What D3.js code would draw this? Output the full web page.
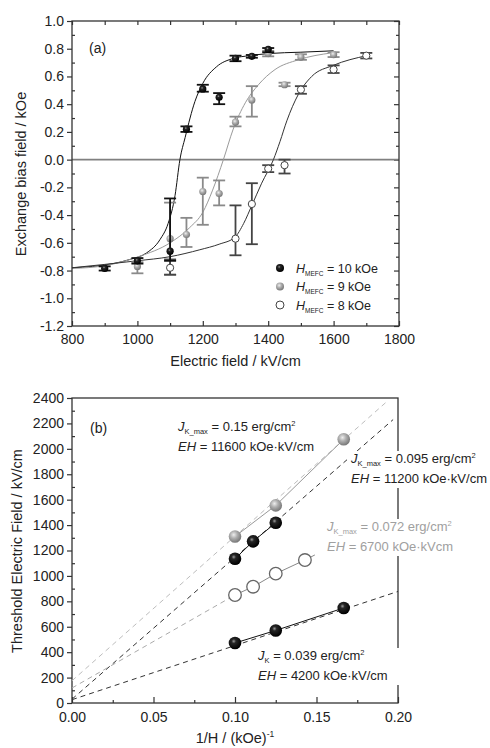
<!DOCTYPE html>
<html lang="en">
<head>
<meta charset="UTF-8">
<title>Exchange bias and threshold electric field</title>
<script src="https://d3js.org/d3.v7.min.js"></script>
<style>
  body { margin: 0; background: #fff; }
  svg { display: block; font-family: "Liberation Sans", Arial, sans-serif; }
  .tick text { font-size: 14px; fill: #222; }
  .tick line { stroke: #333; stroke-width: 1.2; }
</style>
</head>
<body>
<svg width="490" height="748"></svg>
<script>
// ---------- panel (a): exchange bias field vs electric field ----------
// H_MEFC = 10 kOe (black)
const blackE  = [900, 1000, 1100, 1150, 1200, 1250, 1300, 1350, 1400];
const blackV  = [-0.785, -0.73, -0.66, 0.22, 0.51, 0.45, 0.73, 0.745, 0.795];
const blackLo = [-0.80, -0.75, -0.73, 0.20, 0.49, 0.40, 0.71, 0.735, 0.775];
const blackHi = [-0.77, -0.71, -0.28, 0.24, 0.54, 0.48, 0.75, 0.755, 0.805];
// H_MEFC = 9 kOe (grey)
const grayE  = [1000, 1100, 1150, 1200, 1250, 1300, 1350, 1400, 1450, 1500, 1600];
const grayV  = [-0.77, -0.57, -0.54, -0.23, -0.245, 0.27, 0.43, 0.765, 0.54, 0.74, 0.757];
const grayLo = [-0.82, -0.83, -0.63, -0.47, -0.33, 0.24, 0.31, 0.745, 0.53, 0.72, 0.74];
const grayHi = [-0.74, -0.31, -0.42, -0.13, -0.15, 0.31, 0.53, 0.785, 0.555, 0.76, 0.775];
// H_MEFC = 8 kOe (open)
const whiteE  = [1100, 1300, 1350, 1400, 1450, 1500, 1600, 1700];
const whiteV  = [-0.78, -0.57, -0.32, -0.065, -0.04, 0.505, 0.65, 0.75];
const whiteLo = [-0.83, -0.69, -0.61, -0.09, -0.10, 0.475, 0.625, 0.73];
const whiteHi = [-0.72, -0.33, -0.17, -0.04, 0.00, 0.53, 0.68, 0.77];

// fitted curves
const blackFit = [[800,-0.78],[926,-0.75],[977,-0.72],[1028,-0.673],[1069,-0.577],[1094,-0.46],
  [1115,-0.26],[1130,0],[1146,0.16],[1176,0.42],[1200,0.55],[1242,0.67],[1293,0.73],
  [1344,0.75],[1400,0.765],[1500,0.775],[1600,0.785]];
const grayFit = [[800,-0.785],[900,-0.765],[1003,-0.70],[1100,-0.60],[1160,-0.49],[1200,-0.38],
  [1230,-0.22],[1263,0],[1293,0.22],[1330,0.41],[1370,0.54],[1421,0.65],[1492,0.72],[1594,0.77]];
const whiteFit = [[800,-0.78],[998,-0.73],[1100,-0.70],[1191,-0.65],[1250,-0.61],[1298,-0.56],
  [1325,-0.46],[1350,-0.33],[1380,-0.17],[1416,0],[1436,0.13],[1457,0.28],[1492,0.47],
  [1533,0.60],[1599,0.68],[1701,0.75]];

const legendA = ["10", "9", "8"];

// ---------- panel (b): threshold electric field vs 1/H ----------
const s15X = [0.1, 0.125, 0.1667],          s15Y = [1310, 1555, 2075];
const s095X = [0.1, 0.1111, 0.125],         s095Y = [1135, 1272, 1418];
const s072X = [0.1, 0.1111, 0.125, 0.1429], s072Y = [850, 915, 1018, 1125];
const s039X = [0.1, 0.125, 0.1667],         s039Y = [472, 571, 748];

// dashed extrapolations [x0, y0, x1, y1]
const dash15  = [0, 175, 0.193, 2370];
const dash095 = [0, 30, 0.197, 2230];
const dash072 = [0, 118, 0.1, 850];
const dash039 = [0, 26, 0.2, 878];
// solid segment end for the open-circle series
const solid072 = [0.1, 850, 0.149, 1165];

const svg = d3.select("svg");

// sphere gradients
const defs = svg.append("defs");
function sphere(id, stops) {
  const g = defs.append("radialGradient").attr("id", id)
    .attr("cx", "40%").attr("cy", "36%").attr("r", "62%");
  stops.forEach(s => g.append("stop").attr("offset", s[0]).attr("stop-color", s[1]));
}
sphere("sBlack", [["0%", "#9a9a9a"], ["28%", "#262626"], ["100%", "#000"]]);
sphere("sGray", [["0%", "#eeeeee"], ["45%", "#b0b0b0"], ["100%", "#7a7a7a"]]);

function frame(g, x, y) {
  g.append("rect")
    .attr("x", x.range()[0]).attr("y", y.range()[1])
    .attr("width", x.range()[1] - x.range()[0])
    .attr("height", y.range()[0] - y.range()[1])
    .attr("fill", "none").attr("stroke", "#333").attr("stroke-width", 1.3);
}

// ================= panel (a) =================
const xA = d3.scaleLinear().domain([800, 1800]).range([72, 399]);
const yA = d3.scaleLinear().domain([-1.2, 1.0]).range([326, 21]);
const gA = svg.append("g");

const yMajA = d3.range(-1.2, 1.0001, 0.2).map(d => +d.toFixed(1));
const yMinA = d3.range(-1.1, 1.0, 0.2).map(d => +d.toFixed(1));
const xMajA = d3.range(800, 1801, 200);
const xMinA = d3.range(900, 1800, 200);

gA.append("g").attr("transform", "translate(72,0)")
  .call(d3.axisLeft(yA).tickValues(yMajA).tickSize(5).tickPadding(3).tickFormat(d => d.toFixed(1)));
gA.append("g").attr("transform", "translate(72,0)")
  .call(d3.axisLeft(yA).tickValues(yMinA).tickSize(-3).tickFormat(""));
gA.append("g").attr("transform", "translate(0,326)")
  .call(d3.axisBottom(xA).tickValues(xMajA).tickSizeInner(-5).tickPadding(8).tickFormat(d3.format("d")));
gA.append("g").attr("transform", "translate(0,326)")
  .call(d3.axisBottom(xA).tickValues(xMinA).tickSize(-3).tickFormat(""));
gA.append("g").attr("transform", "translate(0,21)")
  .call(d3.axisTop(xA).tickValues(xMajA.concat(xMinA)).tickSize(-4).tickFormat(""));
gA.append("g").attr("transform", "translate(399,0)")
  .call(d3.axisRight(yA).tickValues(yMajA).tickSize(-5).tickFormat(""));
gA.append("g").attr("transform", "translate(399,0)")
  .call(d3.axisRight(yA).tickValues(yMinA).tickSize(-3).tickFormat(""));
gA.selectAll(".domain").remove();

// zero line
gA.append("line")
  .attr("x1", xA(800)).attr("x2", xA(1800)).attr("y1", yA(0)).attr("y2", yA(0))
  .attr("stroke", "#808080").attr("stroke-width", 1.6);

const lineA = d3.line().x(d => xA(d[0])).y(d => yA(d[1])).curve(d3.curveMonotoneX);
[[blackFit, "#111"], [grayFit, "#9a9a9a"], [whiteFit, "#333"]].forEach(([pts, c]) => {
  gA.append("path").attr("d", lineA(pts)).attr("fill", "none")
    .attr("stroke", c).attr("stroke-width", 1);
});

const seriesA = [
  { E: grayE, V: grayV, lo: grayLo, hi: grayHi, bar: "#8a8a8a", fill: "url(#sGray)", stroke: "none" },
  { E: whiteE, V: whiteV, lo: whiteLo, hi: whiteHi, bar: "#444", fill: "#fff", stroke: "#444" },
  { E: blackE, V: blackV, lo: blackLo, hi: blackHi, bar: "#111", fill: "url(#sBlack)", stroke: "none" }
];
seriesA.forEach(s => {
  const pts = s.E.map((e, i) => ({ e, v: s.V[i], lo: s.lo[i], hi: s.hi[i] }));
  const g = gA.append("g");
  const bars = g.selectAll("g.eb").data(pts).enter().append("g")
    .attr("stroke", s.bar).attr("stroke-width", 1.8);
  bars.append("line").attr("x1", d => xA(d.e)).attr("x2", d => xA(d.e))
    .attr("y1", d => yA(d.lo)).attr("y2", d => yA(d.hi));
  bars.append("line").attr("x1", d => xA(d.e) - 6).attr("x2", d => xA(d.e) + 6)
    .attr("y1", d => yA(d.lo)).attr("y2", d => yA(d.lo));
  bars.append("line").attr("x1", d => xA(d.e) - 6).attr("x2", d => xA(d.e) + 6)
    .attr("y1", d => yA(d.hi)).attr("y2", d => yA(d.hi));
  g.selectAll("circle").data(pts).enter().append("circle")
    .attr("cx", d => xA(d.e)).attr("cy", d => yA(d.v)).attr("r", 3.6)
    .attr("fill", s.fill).attr("stroke", s.stroke).attr("stroke-width", 1);
});

// legend
const legFill = ["url(#sBlack)", "url(#sGray)", "#fff"];
const legStroke = ["none", "none", "#444"];
legendA.forEach((h, i) => {
  const y = 268 + i * 18.5;
  gA.append("circle").attr("cx", 280).attr("cy", y).attr("r", 4)
    .attr("fill", legFill[i]).attr("stroke", legStroke[i]);
  const t = gA.append("text").attr("x", 296).attr("y", y + 4.5)
    .attr("font-size", 12.5).attr("fill", "#222");
  t.append("tspan").attr("font-style", "italic").text("H");
  t.append("tspan").attr("font-size", 6.5).attr("dy", 3).text("MEFC");
  t.append("tspan").attr("dy", -3).text(" = " + h + " kOe");
});

gA.append("text").attr("x", 89).attr("y", 53).attr("font-size", 14).attr("fill", "#222").text("(a)");
gA.append("text").attr("x", xA(1300)).attr("y", 366).attr("text-anchor", "middle")
  .attr("font-size", 14.5).attr("fill", "#222").text("Electric field / kV/cm");
gA.append("text").attr("transform", "translate(26,174) rotate(-90)").attr("text-anchor", "middle")
  .attr("font-size", 14.5).attr("fill", "#222").text("Exchange bias field / kOe");
frame(gA, xA, yA);

// ================= panel (b) =================
const xB = d3.scaleLinear().domain([0, 0.2]).range([72, 398]);
const yB = d3.scaleLinear().domain([0, 2400]).range([703, 398]);
const gB = svg.append("g");

gB.append("g").attr("transform", "translate(72,0)")
  .call(d3.axisLeft(yB).tickValues(d3.range(0, 2401, 200)).tickSize(5).tickPadding(3).tickFormat(d3.format("d")));
gB.append("g").attr("transform", "translate(72,0)")
  .call(d3.axisLeft(yB).tickValues(d3.range(100, 2400, 200)).tickSize(-3).tickFormat(""));
gB.append("g").attr("transform", "translate(0,703)")
  .call(d3.axisBottom(xB).tickValues([0, 0.05, 0.1, 0.15, 0.2]).tickSizeInner(-6).tickPadding(9).tickFormat(d3.format(".2f")));
gB.append("g").attr("transform", "translate(0,703)")
  .call(d3.axisBottom(xB).tickValues([0.025, 0.075, 0.125, 0.175]).tickSize(-3).tickFormat(""));
gB.selectAll(".domain").remove();
frame(gB, xB, yB);

function seg(a, color, dash) {
  gB.append("line")
    .attr("x1", xB(a[0])).attr("y1", yB(a[1])).attr("x2", xB(a[2])).attr("y2", yB(a[3]))
    .attr("stroke", color).attr("stroke-width", 1)
    .attr("stroke-dasharray", dash ? "5,4" : null);
}
seg(dash15, "#bdbdbd", true);
seg(dash095, "#333", true);
seg(dash072, "#aaa", true);
seg(dash039, "#333", true);

const lineB = d3.line().x(d => xB(d[0])).y(d => yB(d[1]));
const seriesB = [
  { X: s15X, Y: s15Y, line: "#999", fill: "url(#sGray)", stroke: "none" },
  { X: s095X, Y: s095Y, line: "#111", fill: "url(#sBlack)", stroke: "none" },
  { X: s072X, Y: s072Y, line: "#888", fill: "#fff", stroke: "#666" },
  { X: s039X, Y: s039Y, line: "#111", fill: "url(#sBlack)", stroke: "none" }
];
seriesB.forEach((s, k) => {
  const pts = s.X.map((x, i) => [x, s.Y[i]]);
  const lp = k === 2 ? pts.concat([[solid072[2], solid072[3]]]) : pts;
  gB.append("path").attr("d", lineB(lp)).attr("fill", "none")
    .attr("stroke", s.line).attr("stroke-width", 1);
  gB.selectAll(null).data(pts).enter().append("circle")
    .attr("cx", d => xB(d[0])).attr("cy", d => yB(d[1])).attr("r", 6.3)
    .attr("fill", s.fill).attr("stroke", s.stroke).attr("stroke-width", 1.3);
});

// annotations with white backing boxes
function note(x, y, color, sub, val, eh, box) {
  const g = gB.append("g");
  const t1 = g.append("text").attr("x", x).attr("y", y).attr("font-size", 13).attr("fill", color);
  t1.append("tspan").attr("font-style", "italic").text("J");
  t1.append("tspan").attr("font-size", 7.5).attr("dy", 3).text(sub);
  t1.append("tspan").attr("dy", -3).text(" = " + val + " erg/cm");
  t1.append("tspan").attr("font-size", 7.5).attr("dy", -5).text("2");
  const t2 = g.append("text").attr("x", x).attr("y", y + 20).attr("font-size", 13).attr("fill", color);
  t2.append("tspan").attr("font-style", "italic").text("EH");
  t2.append("tspan").text(" = " + eh);
  if (box) {
    const bb = g.node().getBBox();
    g.insert("rect", "text")
      .attr("x", bb.x - 3).attr("y", bb.y)
      .attr("width", Math.max(bb.width + 6, box - bb.x + 3)).attr("height", bb.height + 2)
      .attr("fill", "#fff");
  }
}
note(178, 431, "#222", "K_max", "0.15", "11600 kOe·kV/cm", 0);
note(351, 463, "#222", "K_max", "0.095", "11200 kOe·kV/cm", 1);
note(327, 531, "#a0a0a0", "K_max", "0.072", "6700 kOe·kVcm", 1);
note(258, 660, "#222", "K", "0.039", "4200 kOe·kV/cm", 402);

gB.append("text").attr("x", 90).attr("y", 433).attr("font-size", 14).attr("fill", "#222").text("(b)");
const tx = gB.append("text").attr("x", xB(0.1)).attr("y", 743).attr("text-anchor", "middle")
  .attr("font-size", 14.5).attr("fill", "#222");
tx.append("tspan").text("1/H / (kOe)");
tx.append("tspan").attr("font-size", 8.5).attr("dy", -6).text("-1");
gB.append("text").attr("transform", "translate(22,551) rotate(-90)").attr("text-anchor", "middle")
  .attr("font-size", 14.5).attr("fill", "#222").text("Threshold Electric Field / kV/cm");
</script>
</body>
</html>
